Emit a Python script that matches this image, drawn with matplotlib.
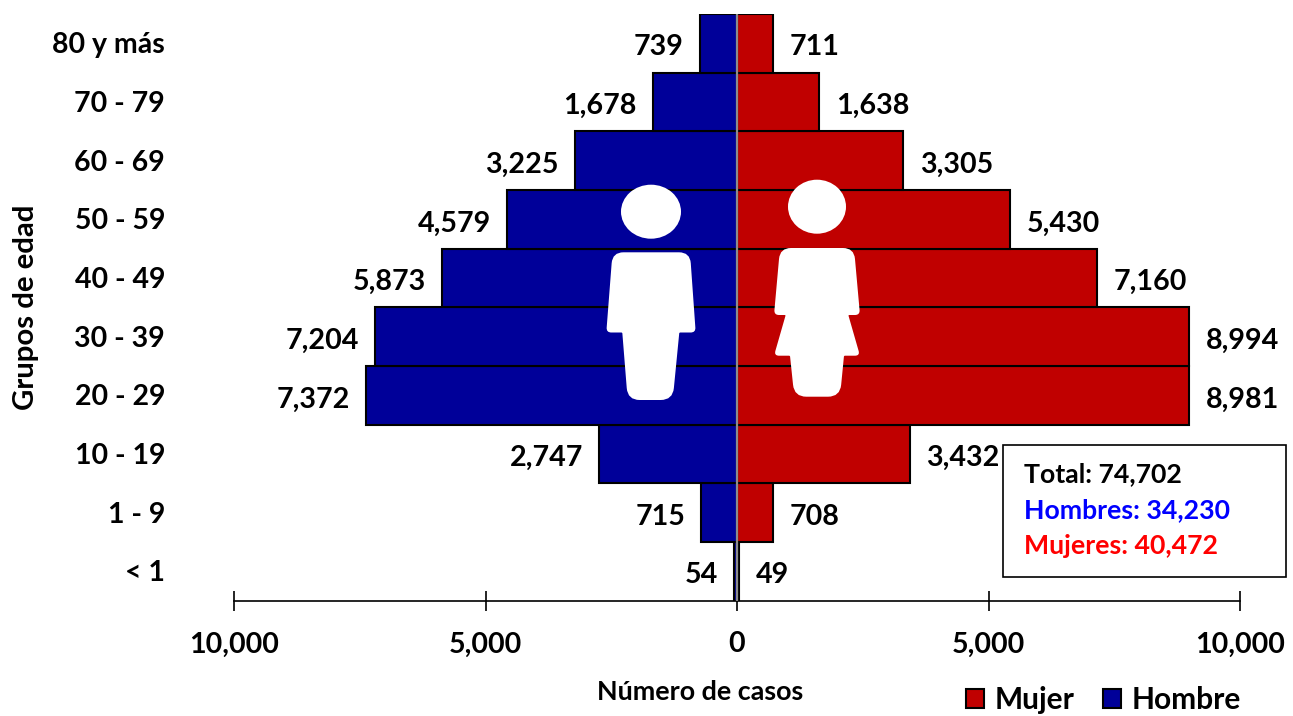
import numpy as np
import matplotlib
matplotlib.use("Agg")
import matplotlib.pyplot as plt
from matplotlib.patches import Ellipse, PathPatch, Rectangle
from matplotlib.path import Path
from matplotlib.transforms import Affine2D

plt.rcParams['font.family'] = ['Lato', 'DejaVu Sans']
plt.rcParams['font.weight'] = 'bold'

# datos
grupos = ["< 1", "1 - 9", "10 - 19", "20 - 29", "30 - 39", "40 - 49", "50 - 59", "60 - 69", "70 - 79", "80 y más"]
hombres = [54, 715, 2747, 7372, 7204, 5873, 4579, 3225, 1678, 739]
mujeres = [49, 708, 3432, 8981, 8994, 7160, 5430, 3305, 1638, 711]
ticks = [-10000, -5000, 0, 5000, 10000]
tick_labels = ["10,000", "5,000", "0", "5,000", "10,000"]
resumen = ["Total: 74,702", "Hombres: 34,230", "Mujeres: 40,472"]
resumen_col = ["black", "#0000ff", "#ff0000"]

W, H = 1293, 716
azul = "#000099"
rojo = "#c00000"


# poligono con esquinas redondeadas (x, y, radio)
def redondeado(pts):
    verts, codes = [], []
    n = len(pts)
    for i in range(n):
        p = np.array(pts[i][:2], dtype=float)
        r = pts[i][2]
        a = np.array(pts[i - 1][:2], dtype=float)
        b = np.array(pts[(i + 1) % n][:2], dtype=float)
        p1 = p + (a - p) / np.linalg.norm(a - p) * r
        p2 = p + (b - p) / np.linalg.norm(b - p) * r
        codes += [Path.MOVETO if i == 0 else Path.LINETO, Path.CURVE3, Path.CURVE3]
        verts += [p1, p, p2]
    verts.append(verts[0])
    codes.append(Path.CLOSEPOLY)
    return Path(verts, codes)


fig = plt.figure(figsize=(W / 100, H / 100), dpi=100)
ax = fig.add_axes([234 / W, (H - 600.5) / H, 1006 / W, 586.5 / H])

y = np.arange(len(grupos))
b1 = ax.barh(y, mujeres, height=1, color=rojo, edgecolor="black", linewidth=1.5, label="Mujer")
b2 = ax.barh(y, -np.array(hombres), height=1, color=azul, edgecolor="black", linewidth=1.5, label="Hombre")
ax.set_xlim(-10000, 10000)
ax.set_ylim(-0.5, 9.5)

# etiquetas de valores
for i in range(len(grupos)):
    ax.annotate(f"{hombres[i]:,}", (-hombres[i], i), xytext=(-11.5, -3), textcoords="offset points",
                ha="right", va="center", fontsize=20.6)
    ax.annotate(f"{mujeres[i]:,}", (mujeres[i], i), xytext=(12, -3), textcoords="offset points",
                ha="left", va="center", fontsize=20.6)

ax.axvline(0, color="#8c8c8c", linewidth=1.6, zorder=5)

for s in ["top", "left", "right"]:
    ax.spines[s].set_visible(False)
ax.spines["bottom"].set_linewidth(1.2)
ax.set_xticks(ticks)
ax.set_xticklabels(tick_labels, fontsize=20.6)
ax.tick_params(axis="x", direction="inout", length=14.5, width=1.2, pad=15)
ax.set_yticks(y)
ax.set_yticklabels([])
ax.tick_params(axis="y", length=0)
for i, g in enumerate(grupos):
    ax.annotate(g, (0, i), xycoords=ax.get_yaxis_transform(), xytext=(-49.5, -1.5), textcoords="offset points",
                ha="right", va="center", fontsize=20.5)

# figuras de persona, en pixeles de la imagen
px = Affine2D().scale(1, -1).translate(0, H)
hombre_fig = [(612.5, 252.3, 11), (690, 252.3, 11), (695.7, 332.5, 5), (679.3, 332.5, 1), (672.7, 400, 12),
              (627.7, 400, 12), (622.3, 332.5, 1), (606.3, 332.5, 5)]
mujer_fig = [(780, 248, 11), (854, 248, 11), (860, 315, 5), (848.3, 315, 1), (860, 355.7, 5), (844, 355.7, 1),
             (840, 396.7, 12), (794.3, 396.7, 12), (790, 355.7, 1), (774, 355.7, 5), (785.7, 315, 1), (774, 315, 5)]
for pts in [hombre_fig, mujer_fig]:
    fig.add_artist(PathPatch(redondeado(pts), facecolor="white", edgecolor="none", transform=px))
fig.add_artist(Ellipse((651, 211.7), 60, 54, facecolor="white", edgecolor="none", transform=px))
fig.add_artist(Ellipse((817, 206.7), 58, 54, facecolor="white", edgecolor="none", transform=px))

# textos de ejes
fig.text(26 / W, 1 - 307 / H, "Grupos de edad", rotation=90, ha="center", va="center", fontsize=21.2)
fig.text(700 / W, 1 - 692 / H, "Número de casos", ha="center", va="center", fontsize=19.4)

# recuadro de totales
fig.add_artist(Rectangle((1003, 445), 283, 132, facecolor="white", edgecolor="black", linewidth=1.2, transform=px))
for t, c, yy in zip(resumen, resumen_col, [474, 510, 546]):
    fig.text(1024 / W, 1 - yy / H, t, color=c, ha="left", va="center", fontsize=19.2)

# leyenda
fig.legend(handles=[b1, b2], loc="center right", bbox_to_anchor=(1241 / W, 1 - 700 / H), ncol=2, frameon=False,
           fontsize=21.5, handlelength=0.6, handleheight=0.6, handletextpad=0.36, columnspacing=0.95, borderpad=0,
           borderaxespad=0)

fig.savefig("out.png", dpi=100)
